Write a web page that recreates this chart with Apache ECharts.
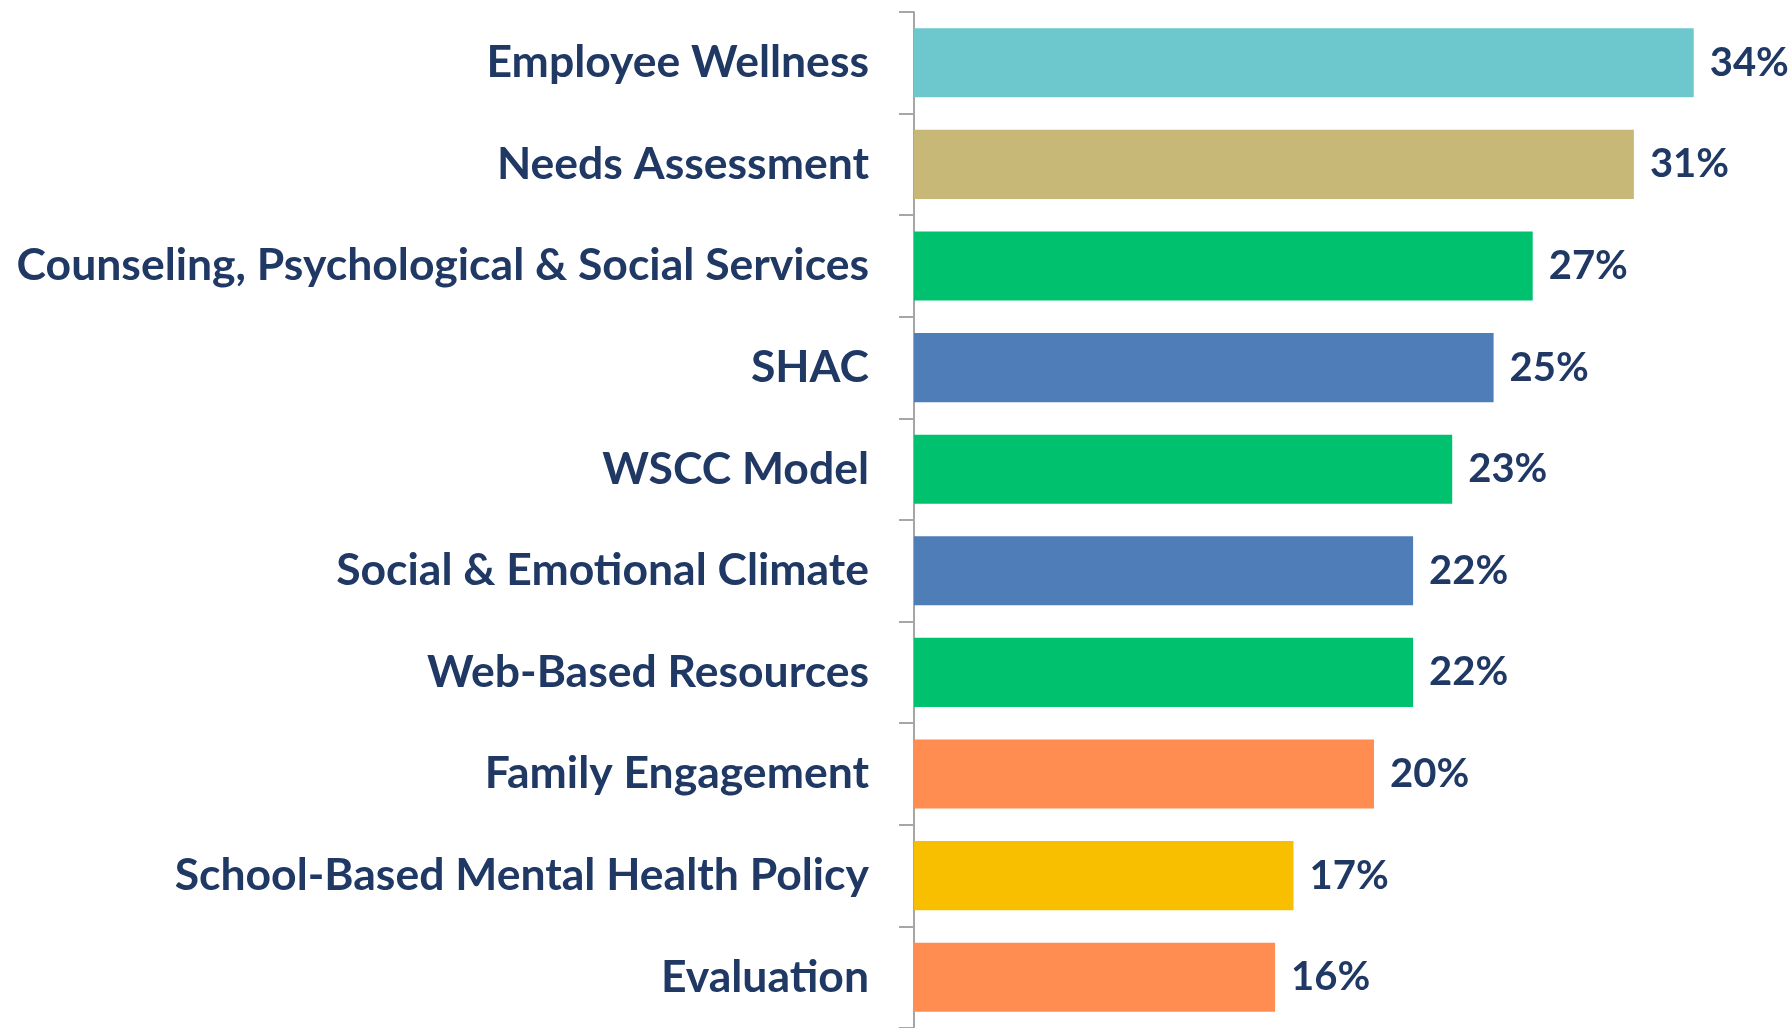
<!DOCTYPE html>
<html>
<head>
<meta charset="utf-8">
<script src="https://cdn.jsdelivr.net/npm/echarts@6/dist/echarts.min.js"></script>
<style>
  html, body { margin: 0; padding: 0; background: #fff; }
  #chart { width: 1792px; height: 1028px; }
</style>
</head>
<body>
<div id="chart"></div>
<script>
var categories = [
  'Employee Wellness',
  'Needs Assessment',
  'Counseling, Psychological & Social Services',
  'SHAC',
  'WSCC Model',
  'Social & Emotional Climate',
  'Web-Based Resources',
  'Family Engagement',
  'School-Based Mental Health Policy',
  'Evaluation'
]
// percent values
var values = [33.9, 31.3, 26.9, 25.2, 23.4, 21.7, 21.7, 20.0, 16.5, 15.7]
var barColors = [
  '#6cc8cc', '#c8b878', '#00c16e', '#4f7db7', '#00c16e',
  '#4f7db7', '#00c16e', '#ff8c50', '#f8bf00', '#ff8c50'
]

var textColor = '#1f3864'
var fontFamily = 'Lato'

var chart = echarts.init(document.getElementById('chart'))

var option = {
  animation: false,
  grid: {
    left: 914,
    top: 12,
    right: 4,
    height: 1027
  },
  xAxis: {
    type: 'value',
    min: 0,
    max: 38,
    show: false
  },
  yAxis: {
    type: 'category',
    inverse: true,
    data: categories,
    axisLine: {
      show: true,
      lineStyle: { color: '#a6a6a6', width: 2 }
    },
    axisTick: {
      show: true,
      length: 15,
      lineStyle: { color: '#a6a6a6', width: 2 }
    },
    axisLabel: {
      margin: 45,
      color: textColor,
      fontFamily: fontFamily,
      fontWeight: 'bold',
      fontSize: 44.5,
      padding: [4, 0, 0, 0]
    }
  },
  series: [{
    type: 'bar',
    barCategoryGap: '32%',
    data: values.map(function (v, i) {
      return { value: v, itemStyle: { color: barColors[i] } }
    }),
    label: {
      show: true,
      position: 'right',
      distance: 16,
      color: textColor,
      fontFamily: fontFamily,
      fontWeight: 'bold',
      fontSize: 40,
      padding: [4, 0, 0, 0],
      formatter: function (p) { return Math.round(p.value) + '%' }
    }
  }]
}

chart.setOption(option)
</script>
</body>
</html>
